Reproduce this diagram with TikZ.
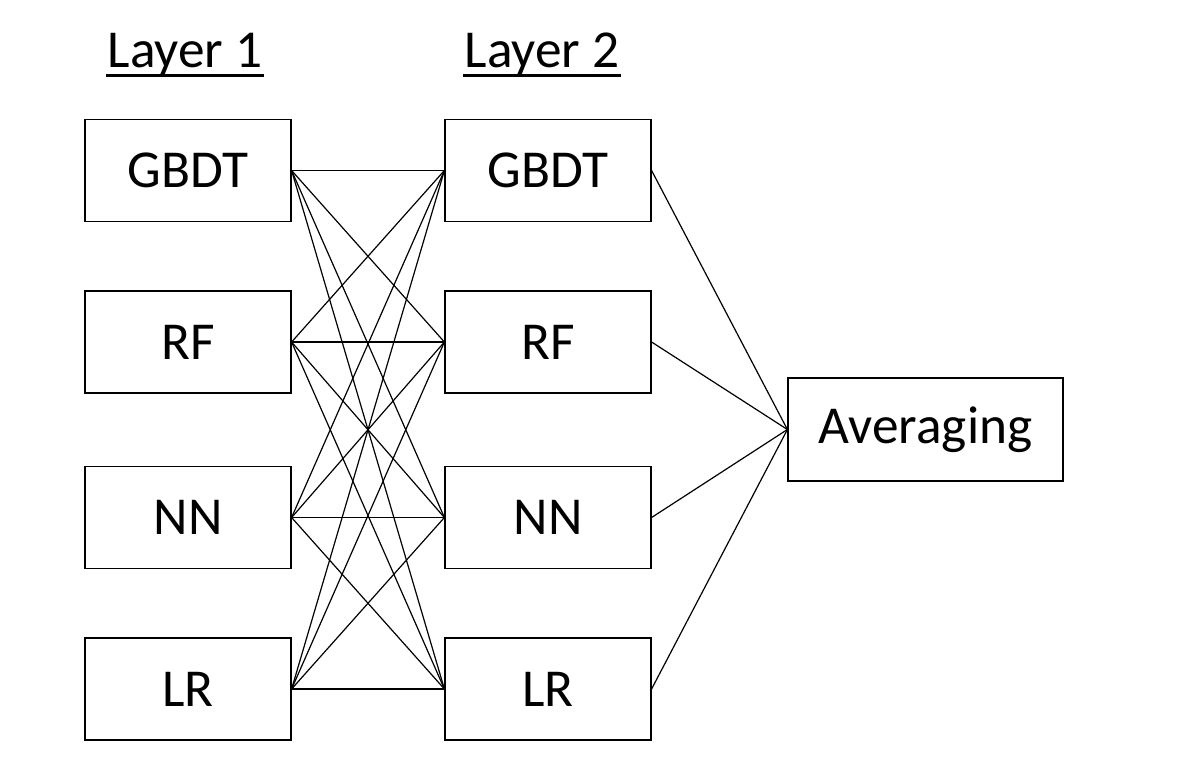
\documentclass[tikz,border=0pt]{standalone}
\usepackage{fontspec}
\setmainfont{Carlito}
\newcommand{\layerline}[1]{\setbox0\hbox{#1}\rlap{\hspace{-1pt}\rule[-7.2pt]{\dimexpr\wd0+2pt\relax}{2pt}}\box0}
\tikzset{every picture/.style={line width=0.9pt}}
\tikzset{model/.style={draw, line width=0.9pt, minimum width=154.5pt, minimum height=76.5pt, inner sep=0pt, font=\fontsize{40}{48}\selectfont},
  layertitle/.style={inner sep=0pt, font=\fontsize{40}{48}\selectfont},
  link/.style={line width=0.9pt}}

\begin{document}
\begin{tikzpicture}[x=0.75pt,y=0.75pt,yscale=-1,xscale=1]
\useasboundingbox (0,0) rectangle (1186,772);

%Text: layer titles
\node [layertitle, anchor=base] (t1) at (185,67) {\layerline{Layer 1}};
\node [layertitle, anchor=base] (t2) at (542,67) {\layerline{Layer 2}};

%Shape: first layer models
\node [model] (a1) at (188,170.5) {GBDT};
\node [model] (a2) at (188,342) {RF};
\node [model] (a3) at (188,517.5) {NN};
\node [model] (a4) at (188,689) {LR};

%Shape: second layer models
\node [model] (b1) at (548,170.5) {GBDT};
\node [model] (b2) at (548,342) {RF};
\node [model] (b3) at (548,517.5) {NN};
\node [model] (b4) at (548,689) {LR};

%Shape: averaging
\node [model, minimum width=206.25pt, minimum height=77.25pt] (avg) at (925.5,429.5) {Averaging};

%Straight Lines: every model to every model
\foreach \i in {1,...,4}
  \foreach \j in {1,...,4}
    \draw [link] (a\i.east) -- (b\j.west);

%Straight Lines: into averaging
\foreach \j in {1,...,4}
  \draw [link] (b\j.east) -- (avg.west);
\end{tikzpicture}
\end{document}
